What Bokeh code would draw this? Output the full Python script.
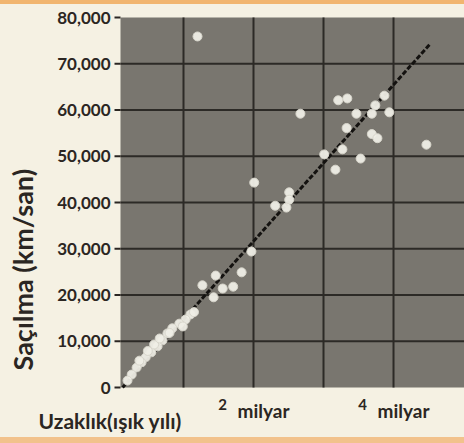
import math
from bokeh.plotting import figure
from bokeh.models import BoxAnnotation, ColumnDataSource
from bokeh.core.properties import value
from bokeh.embed import file_html
from bokeh.resources import INLINE

# ---- data (distance in billions of light years, velocity km/s) ----
gal_dist = [1.20, 3.21, 3.34, 3.87, 3.74, 2.67, 3.47, 3.69, 3.94, 3.33, 3.69, 3.77,
            4.47, 3.27, 3.01, 3.53, 3.17,
            2.01, 2.51, 2.51, 2.31, 2.47, 1.97, 1.83, 1.46, 1.27, 1.56, 1.71, 1.43,
            1.10, 1.03, 0.94, 0.84, 0.77, 0.70, 0.63, 0.54, 0.46, 0.40, 0.33, 0.26, 0.20,
            0.99, 0.80, 0.58, 0.37, 1.15, 0.49, 0.66]
gal_vel = [75900, 62100, 62500, 63100, 61000, 59200, 59200, 59200, 59500, 56100, 54800, 53900,
           52500, 51500, 50400, 49500, 47100,
           44300, 42200, 40600, 39300, 38900, 29400, 24900, 24200, 22100, 21400, 21800, 19500,
           15800, 14700, 13800, 12800, 11700, 10200, 8900, 7600, 6500, 5400, 4300, 2800, 1500,
           13200, 11800, 9300, 5800, 16300, 7900, 10600]

fit_dist = [0.13, 4.53]
fit_vel = [0, 74400]

# axis limits of the grey panel
x_lim = (0.1, 5.014)
y_lim = (0, 80000)

y_ticks = [0, 10000, 20000, 30000, 40000, 50000, 60000, 70000, 80000]
y_tick_labels = ["0", "10,000", "20,000", "30,000", "40,000", "50,000", "60,000", "70,000", "80,000"]
x_grid = [1, 2, 3, 4]
x_ticks = [2, 4]
x_tick_nums = ["2", "4"]
x_tick_units = ["milyar", "milyar"]

x_title = "Uzaklık(ışık yılı)"
y_title = "Saçılma (km/san)"

# ---- style ----
PANEL = "#79766f"
INK = "#2b2622"
GRID = "#2c2a26"
FONT = "Lato"
PX_X = 70.0            # pixels per billion light years
PX_Y = 46.25 / 10000   # pixels per km/s

# the canvas is one frame; margins are expressed through the ranges
left_px, right_px, top_px, bottom_px = 120, 0, 17, 56
x_range = (x_lim[0] - left_px / PX_X, x_lim[1] + right_px / PX_X)
y_range = (y_lim[0] - bottom_px / PX_Y, y_lim[1] + top_px / PX_Y)

p = figure(width=464, height=443, x_range=x_range, y_range=y_range,
           output_backend="svg", toolbar_location=None,
           min_border_left=0, min_border_right=0, min_border_top=0, min_border_bottom=0)
p.xaxis.visible = False
p.yaxis.visible = False
p.grid.visible = False
p.background_fill_color = None
p.border_fill_color = None
p.outline_line_color = None

p.add_layout(BoxAnnotation(left=x_lim[0], bottom=y_lim[0], top=y_lim[1],
                           fill_color=PANEL, fill_alpha=1, line_color=None, level="underlay"))

# grid lines
p.segment(x0=x_grid, y0=[y_lim[0]] * len(x_grid), x1=x_grid, y1=[y_lim[1]] * len(x_grid),
          line_color=GRID, line_width=2)
y_grid = y_ticks[1:-1]
p.segment(x0=[x_lim[0]] * len(y_grid), y0=y_grid, x1=[x_lim[1]] * len(y_grid), y1=y_grid,
          line_color=GRID, line_width=2)

# y ticks and labels
tick_len = 6 / PX_X
p.segment(x0=[x_lim[0] - tick_len] * len(y_ticks), y0=y_ticks,
          x1=[x_lim[0]] * len(y_ticks), y1=y_ticks, line_color=INK, line_width=2)
p.text(x=[x_lim[0]] * len(y_ticks), y=y_ticks, text=y_tick_labels, x_offset=-10,
       text_align="right", text_baseline="middle", text_font=value(FONT),
       text_font_size="17px", text_font_style="bold", text_color=INK)

# x tick labels
p.text(x=x_ticks, y=[y_lim[0]] * len(x_ticks), text=x_tick_nums, x_offset=-31, y_offset=17,
       text_align="center", text_baseline="middle", text_font=value(FONT),
       text_font_size="15px", text_font_style="bold", text_color=INK)
p.text(x=x_ticks, y=[y_lim[0]] * len(x_ticks), text=x_tick_units, x_offset=10, y_offset=23,
       text_align="center", text_baseline="middle", text_font=value(FONT),
       text_font_size="19px", text_font_style="bold", text_color=INK)

# axis titles
p.text(x=[x_lim[0]], y=[y_lim[0]], text=[x_title], x_offset=-82, y_offset=33,
       text_align="left", text_baseline="middle", text_font=value(FONT),
       text_font_size="21px", text_font_style="bold", text_color=INK)
p.text(x=[x_lim[0]], y=[y_lim[0]], text=[y_title], angle=math.pi / 2, x_offset=-98, y_offset=-17,
       text_align="left", text_baseline="middle", text_font=value(FONT),
       text_font_size="27px", text_font_style="bold", text_color=INK)

# data
p.line(fit_dist, fit_vel, line_color="#141210", line_width=3, line_dash="5 2")
src = ColumnDataSource(data=dict(x=gal_dist, y=gal_vel))
p.scatter("x", "y", source=src, size=9, fill_color="#efeee6", line_color="#d8d6cc",
          line_width=1, fill_alpha=0.95)

html = file_html(p, INLINE)
html = html.replace("<head>", "<head><style>html{height:100%;background:linear-gradient(to bottom,#f1b56f 0,#f1b56f 4px,#f5f1e3 4px,#f5f1e3 437px,#f2c28c 437px);}</style>", 1)
open("out.html", "w").write(html)
